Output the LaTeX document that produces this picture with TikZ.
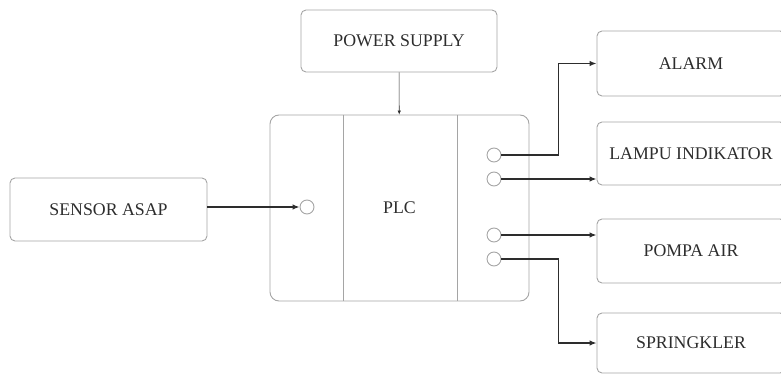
\documentclass[tikz,border=0pt]{standalone}
\usepackage{fontspec}
\setmainfont{Liberation Serif}
\usepackage{tikz}
\usepackage{xcolor}
\usetikzlibrary{positioning, arrows.meta, calc}
\definecolor{boxgray}{RGB}{165,165,165}
\definecolor{wiregray}{RGB}{45,45,45}
\definecolor{txtgray}{RGB}{45,45,45}
\tikzset{
  blok/.style={draw=boxgray, line width=0.9pt, rounded corners=5pt, minimum height=63pt},
  port/.style={draw=boxgray, line width=0.9pt, circle, minimum size=14pt, inner sep=0pt},
  wire/.style={draw=wiregray, line width=1.3pt, -{Latex[length=7pt, width=5.5pt]}}
}

\begin{document}
\begin{tikzpicture}[x=1pt, y=-1pt, every node/.style={align=center, font=\fontsize{17.8}{20}\selectfont, text=txtgray}]
    \useasboundingbox (0,0) rectangle (781,374);
    \clip (0,0) rectangle (781,374);

    % sumber dan masukan
    \node[blok, minimum width=196pt, minimum height=62pt] (psu) at (399,41) {POWER SUPPLY};
    \node[blok, minimum width=197pt] (sensor) at (108.5,209.5) {SENSOR ASAP};

    % PLC
    \node[draw=boxgray, line width=0.9pt, rounded corners=9pt, minimum width=259pt, minimum height=186pt] (plc) at (399.5,208) {PLC};
    \draw[boxgray, line width=0.9pt] ($(plc.north west)!0.283!(plc.north east)$) -- ($(plc.south west)!0.283!(plc.south east)$);
    \draw[boxgray, line width=0.9pt] ($(plc.north west)!0.724!(plc.north east)$) -- ($(plc.south west)!0.724!(plc.south east)$);

    \node[port] (in1) at (307,207) {};
    \node[port] (out1) at (494,155) {};
    \node[port] (out2) at (494,179) {};
    \node[port] (out3) at (494,235) {};
    \node[port] (out4) at (494,259) {};

    % keluaran
    \node[blok, minimum width=188pt, minimum height=65pt] (alarm) at (691,63.5) {ALARM};
    \node[blok, minimum width=188pt] (lampu) at (691,153.5) {LAMPU INDIKATOR};
    \node[blok, minimum width=188pt, minimum height=64pt] (pompa) at (691,251) {POMPA AIR};
    \node[blok, minimum width=188pt, minimum height=60pt] (spring) at (691,343) {SPRINGKLER};

    % sambungan
    \draw[wiregray, line width=0.6pt, -{Latex[length=4pt, width=3.5pt]}] (psu) -- (plc);
    \draw[wire] (sensor.east |- in1) -- (in1.west);
    \draw[wire] (out1.east) -- ++(57,0) |- (alarm.west);
    \draw[wire] (out2.east) -- (out2.east -| lampu.west);
    \draw[wire] (out3.east) -- (out3.east -| pompa.west);
    \draw[wire] (out4.east) -- ++(57,0) |- (spring.west);
\end{tikzpicture}
\end{document}
